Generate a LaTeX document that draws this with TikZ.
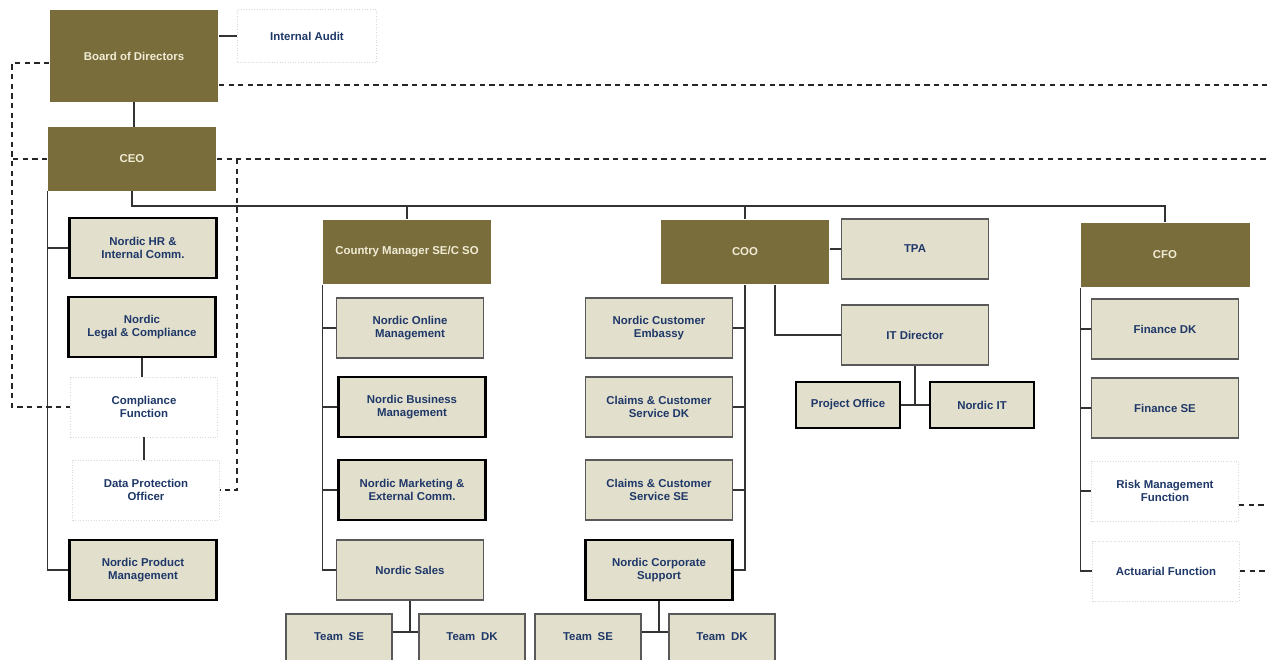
\documentclass[tikz,border=0pt]{standalone}
\usepackage{fontspec}
\setmainfont{Liberation Sans}
\usepackage{tikz}

\definecolor{olivehead}{RGB}{121,109,60}
\definecolor{beigefill}{RGB}{227,223,205}
\definecolor{headtext}{RGB}{240,235,212}
\definecolor{unittext}{RGB}{30,56,104}

\begin{document}
\begin{tikzpicture}[x=0.02cm, y=-0.02cm,
    every node/.style={font=\fontsize{6.5}{7.4}\selectfont\bfseries, align=center, inner sep=1pt},
    headbox/.style={fill=olivehead, text=headtext, minimum width=3.38cm, minimum height=1.3cm},
    unitbox/.style={fill=beigefill, text=unittext, draw=black!65, line width=0.7pt, minimum width=2.94cm, minimum height=1.2cm},
    keybox/.style={unitbox, draw=black, line width=1.2pt},
    funcbox/.style={fill=white, text=unittext, draw=black!15, densely dotted, line width=0.5pt, minimum width=2.94cm, minimum height=1.2cm},
    teambox/.style={unitbox, minimum width=2.12cm, minimum height=1.2cm, text depth=0.3cm},
    link/.style={draw=black!80, line width=0.6pt},
    dashlink/.style={draw=black!85, line width=0.65pt, dash pattern=on 3pt off 2.5pt}]
    \useasboundingbox (0,0) rectangle (1267,659);
    \clip (0,0) rectangle (1267,659);

    \node[headbox, minimum height=1.84cm] (board) at (134,56) {Board of Directors};
    \node[funcbox, minimum width=2.78cm, minimum height=1.06cm] (audit) at (307,36) {Internal Audit};
    \node[headbox, minimum height=1.28cm] (ceo) at (132,159) {CEO};

    \node[keybox] (hr) at (143,248) {Nordic HR \&\\Internal Comm.};
    \node[keybox] (legal) at (142,327) {Nordic\\Legal \& Compliance};
    \node[funcbox] (compl) at (144,407) {Compliance\\Function};
    \node[funcbox] (dpo) at (146,490) {Data Protection\\Officer};
    \node[keybox] (prodm) at (143,570) {Nordic Product\\Management};

    \node[headbox] (cm) at (407,252) {Country Manager SE/C SO};
    \node[unitbox] (online) at (410,328) {Nordic Online\\Management};
    \node[keybox] (business) at (412,407) {Nordic Business\\Management};
    \node[keybox] (marketing) at (412,490) {Nordic Marketing \&\\External Comm.};
    \node[unitbox] (sales) at (410,570) {Nordic Sales};
    \node[teambox] (seA) at (339,644) {Team\enspace SE};
    \node[teambox] (dkA) at (472,644) {Team\enspace DK};

    \node[headbox] (coo) at (745,252) {COO};
    \node[unitbox] (tpa) at (915,249) {TPA};
    \node[unitbox] (embassy) at (659,328) {Nordic Customer\\Embassy};
    \node[unitbox] (claimsdk) at (659,407) {Claims \& Customer\\Service DK};
    \node[unitbox] (claimsse) at (659,490) {Claims \& Customer\\Service SE};
    \node[keybox] (corp) at (659,570) {Nordic Corporate\\Support};
    \node[teambox] (seB) at (588,644) {Team\enspace SE};
    \node[teambox] (dkB) at (722,644) {Team\enspace DK};
    \node[unitbox] (itdir) at (915,335) {IT Director};
    \node[keybox, minimum width=2.08cm, minimum height=0.92cm] (projoff) at (848,405) {Project Office};
    \node[keybox, minimum width=2.08cm, minimum height=0.92cm] (nordicit) at (982,405) {Nordic IT};

    \node[headbox] (cfo) at (1165,255) {CFO};
    \node[unitbox] (findk) at (1165,329) {Finance DK};
    \node[unitbox] (finse) at (1165,408) {Finance SE};
    \node[funcbox] (risk) at (1165,491) {Risk Management\\Function};
    \node[funcbox] (actuarial) at (1166,571) {Actuarial Function};

    \coordinate (bus) at (132,206);
    \coordinate (lrail) at (12,0);
    \coordinate (crail) at (237,0);
    \coordinate (redge) at (1267,0);
    \coordinate (bdash) at ([yshift=-0.58cm]board.east);
    \coordinate (rdash) at ([yshift=-0.28cm]risk.east);
    \coordinate (jA) at ([yshift=0.24cm]seA.east);
    \coordinate (jB) at ([yshift=0.24cm]seB.east);

    \draw[link] (audit.west) -- (audit.west -| board.east);
    \draw[link] (board.south) -- (board.south |- ceo.north);
    \draw[link] (ceo.south) -- (bus) -| (cfo.north);
    \draw[link] (bus -| cm.north) -- (cm.north);
    \draw[link] (bus -| coo.north) -- (coo.north);

    \draw[link] (ceo.south west) |- (prodm.west);
    \draw[link] (ceo.south west |- hr.west) -- (hr.west);
    \draw[link] (legal.south) -- (legal.south |- compl.north);
    \draw[link] (compl.south) -- (compl.south |- dpo.north);

    \draw[link] (cm.south west) |- (sales.west);
    \foreach \n in {online,business,marketing}
      \draw[link] (cm.south west |- \n.west) -- (\n.west);
    \draw[link] (jA) -- (jA -| dkA.west);
    \draw[link] (sales.south) -- (sales.south |- jA);

    \draw[link] (coo.south) |- (corp.east);
    \foreach \n in {embassy,claimsdk,claimsse}
      \draw[link] (coo.south |- \n.east) -- (\n.east);
    \draw[link] (jB) -- (jB -| dkB.west);
    \draw[link] (corp.south) -- (corp.south |- jB);
    \draw[link] (tpa.west -| coo.east) -- (tpa.west);
    \draw[link] ([xshift=0.6cm]coo.south) |- (itdir.west);
    \draw[link] (projoff.east) -- (nordicit.west);
    \draw[link] (itdir.south) -- (itdir.south |- projoff.east);

    \draw[link] (cfo.south west) |- (actuarial.west);
    \foreach \n in {findk,finse,risk}
      \draw[link] (cfo.south west |- \n.west) -- (\n.west);

    \draw[dashlink] ([yshift=-0.14cm]board.west) -| (lrail |- compl.west) -- (compl.west);
    \draw[dashlink] (ceo.west) -- (lrail |- ceo.west);
    \draw[dashlink] (bdash) -- (redge |- bdash);
    \draw[dashlink] (ceo.east) -- (redge |- ceo.east);
    \draw[dashlink] (crail |- ceo.east) |- (dpo.east);
    \draw[dashlink] (rdash) -- (redge |- rdash);
    \draw[dashlink] (actuarial.east) -- (redge |- actuarial.east);
  \end{tikzpicture}
\end{document}
